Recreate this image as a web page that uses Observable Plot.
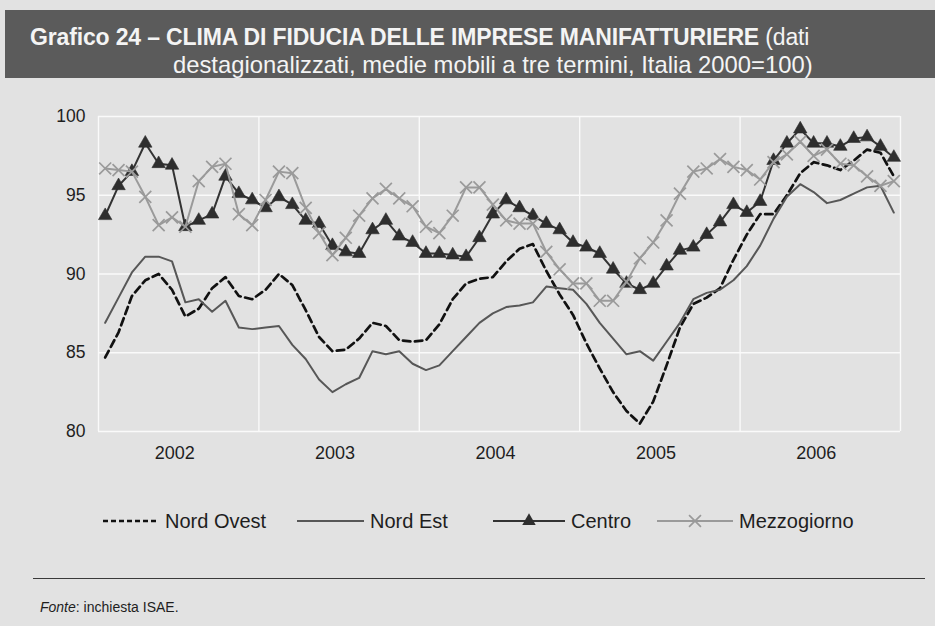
<!DOCTYPE html>
<html>
<head>
<meta charset="utf-8">
<script src="https://cdn.jsdelivr.net/npm/d3@7"></script>
<script src="https://cdn.jsdelivr.net/npm/@observablehq/plot@0.6"></script>
<style>
  html, body { margin: 0; padding: 0; }
  body { width: 935px; height: 626px; background: #e2e2e2; position: relative; overflow: hidden;
         font-family: "Liberation Sans", Arial, Helvetica, sans-serif; color: #1e1e1e; }
  #titlebar { position: absolute; left: 5px; top: 10px; width: 930px; height: 68px; background: #5b5b5b; color: #f4f4f4; }
  #titlebar .l1 { position: absolute; left: 25px; top: 14px; font-size: 23px; letter-spacing: -0.15px; white-space: nowrap; }
  #titlebar .l2 { position: absolute; left: 168px; top: 41px; font-size: 23.8px; white-space: nowrap; }
  #chart { position: absolute; left: 0; top: 78px; }
  .leg { position: absolute; top: 509px; height: 24px; display: flex; align-items: center; font-size: 20px; color: #1e1e1e; white-space: nowrap; }
  .leg svg { margin-right: 6px; }
  #rule { position: absolute; left: 33px; top: 578px; width: 892px; height: 0; border-top: 1.3px solid #3a3a3a; }
  #fonte { position: absolute; left: 40px; top: 599px; font-size: 14px; color: #1e1e1e; }
</style>
</head>
<body>
<div id="titlebar">
  <div class="l1"><b>Grafico 24 – CLIMA DI FIDUCIA DELLE IMPRESE MANIFATTURIERE</b> (dati</div>
  <div class="l2">destagionalizzati, medie mobili a tre termini, Italia 2000=100)</div>
</div>
<div id="chart"></div>
<div id="legend"></div>
<div id="rule"></div>
<div id="fonte"><i>Fonte</i>: inchiesta ISAE.</div>
<script>
// Monthly data, January 2002 – December 2006
const years = ["2002", "2003", "2004", "2005", "2006"];
const seriesNames = ["Nord Ovest", "Nord Est", "Centro", "Mezzogiorno"];

const nordOvest = [
  84.7, 86.3, 88.6, 89.6, 90.0, 89.0, 87.3, 87.8, 89.1, 89.8, 88.6, 88.4,
  89.0, 90.0, 89.3, 87.7, 86.0, 85.1, 85.2, 85.9, 86.9, 86.7, 85.8, 85.7,
  85.8, 86.8, 88.4, 89.4, 89.7, 89.8, 90.8, 91.6, 91.9, 90.2, 88.7, 87.4,
  85.6, 84.0, 82.5, 81.3, 80.5, 81.9, 84.2, 86.6, 88.1, 88.5, 89.1, 90.9,
  92.5, 93.8, 93.8, 95.0, 96.4, 97.1, 96.9, 96.6, 97.2, 97.9, 97.7, 96.2
];
const nordEst = [
  86.9, 88.5, 90.1, 91.1, 91.1, 90.8, 88.2, 88.4, 87.6, 88.3, 86.6, 86.5,
  86.6, 86.7, 85.5, 84.6, 83.3, 82.5, 83.0, 83.4, 85.1, 84.9, 85.1, 84.3,
  83.9, 84.2, 85.1, 86.0, 86.9, 87.5, 87.9, 88.0, 88.2, 89.2, 89.1, 89.0,
  88.1, 86.9, 85.9, 84.9, 85.1, 84.5, 85.7, 86.9, 88.4, 88.8, 89.0, 89.6,
  90.5, 91.8, 93.5, 94.9, 95.7, 95.2, 94.5, 94.7, 95.1, 95.5, 95.6, 93.9
];
const centro = [
  93.7, 95.6, 96.5, 98.3, 97.0, 96.9, 93.0, 93.4, 93.8, 96.2, 95.1, 94.7,
  94.2, 94.9, 94.4, 93.4, 93.2, 91.8, 91.4, 91.3, 92.8, 93.4, 92.4, 92.0,
  91.3, 91.3, 91.2, 91.1, 92.3, 93.8, 94.7, 94.2, 93.7, 93.2, 92.8, 92.0,
  91.7, 91.3, 90.3, 89.4, 89.0, 89.4, 90.5, 91.5, 91.7, 92.5, 93.3, 94.4,
  93.9, 94.6, 97.2, 98.3, 99.2, 98.3, 98.3, 98.1, 98.6, 98.7, 98.1, 97.4
];
const mezzogiorno = [
  96.7, 96.6, 96.5, 94.9, 93.1, 93.6, 93.0, 95.9, 96.8, 97.0, 93.8, 93.1,
  94.7, 96.5, 96.4, 94.2, 92.6, 91.2, 92.3, 93.7, 94.8, 95.4, 94.8, 94.3,
  93.0, 92.6, 93.7, 95.5, 95.5, 94.4, 93.4, 93.2, 93.2, 91.4, 90.3, 89.4,
  89.4, 88.3, 88.3, 89.5, 91.0, 92.0, 93.4, 95.1, 96.5, 96.7, 97.3, 96.8,
  96.6, 96.0, 97.1, 97.6, 98.4, 97.5, 97.9, 97.0, 96.9, 96.2, 95.6, 95.9
];
const yTicks = [80, 85, 90, 95, 100];

const toRows = (arr, name) => arr.map((v, i) => ({ t: i + 0.5, value: v, series: name }));
const rowsNO = toRows(nordOvest, "Nord Ovest");
const rowsNE = toRows(nordEst, "Nord Est");
const rowsCE = toRows(centro, "Centro");
const rowsME = toRows(mezzogiorno, "Mezzogiorno");

const nMonths = years.length * 12;
const yearBounds = d3.range(0, nMonths + 1, 12);
const yearMids = years.map((y, k) => k * 12 + 6);

const styles = {
  "Nord Ovest": { stroke: "#111111", strokeWidth: 2.7, dash: "7.5,4.5" },
  "Nord Est": { stroke: "#575757", strokeWidth: 2 },
  "Centro": { stroke: "#333333", strokeWidth: 2 },
  "Mezzogiorno": { stroke: "#9a9a9a", strokeWidth: 2 }
};

const chart = Plot.plot({
  width: 935,
  height: 392,
  marginLeft: 98,
  marginRight: 35,
  marginTop: 38,
  marginBottom: 39,
  style: { background: "transparent", fontSize: "17px", fontFamily: "'Liberation Sans', Arial, sans-serif", color: "#1e1e1e" },
  x: { domain: [0, nMonths], label: null },
  y: { domain: [80, 100], label: null },
  marks: [
    Plot.gridY(yTicks, { stroke: "#fafafa", strokeOpacity: 1, strokeWidth: 1.6 }),
    Plot.gridX(yearBounds, { stroke: "#fafafa", strokeOpacity: 1, strokeWidth: 1.4 }),
    Plot.axisY(yTicks, { tickSize: 0, tickPadding: 13, fontSize: 17.5, label: null }),
    Plot.axisX(yearMids, { tickSize: 0, tickPadding: 15, fontSize: 18, dx: -4, label: null,
      tickFormat: (d) => years[(d - 6) / 12] }),
    Plot.line(rowsNO, { x: "t", y: "value", stroke: styles["Nord Ovest"].stroke, strokeWidth: styles["Nord Ovest"].strokeWidth, strokeDasharray: styles["Nord Ovest"].dash }),
    Plot.line(rowsNE, { x: "t", y: "value", stroke: styles["Nord Est"].stroke, strokeWidth: styles["Nord Est"].strokeWidth }),
    Plot.line(rowsCE, { x: "t", y: "value", stroke: styles["Centro"].stroke, strokeWidth: styles["Centro"].strokeWidth }),
    Plot.dot(rowsCE, { x: "t", y: "value", symbol: "triangle", r: 5, fill: "#2e2e2e", stroke: "#2e2e2e", strokeWidth: 0.6 }),
    Plot.line(rowsME, { x: "t", y: "value", stroke: styles["Mezzogiorno"].stroke, strokeWidth: styles["Mezzogiorno"].strokeWidth }),
    Plot.dot(rowsME, { x: "t", y: "value", symbol: "times", r: 5.5, stroke: "#9a9a9a", strokeWidth: 1.7 })
  ]
});
document.getElementById("chart").appendChild(chart);

// Legend
const legendLayout = [
  { name: "Nord Ovest", left: 103, w: 56 },
  { name: "Nord Est", left: 297, w: 67 },
  { name: "Centro", left: 493, w: 72 },
  { name: "Mezzogiorno", left: 657, w: 76 }
];
const legend = document.getElementById("legend");
legendLayout.forEach((item) => {
  const div = document.createElement("div");
  div.className = "leg";
  div.style.left = item.left + "px";
  const st = styles[item.name];
  const svg = d3.create("svg").attr("width", item.w).attr("height", 20);
  svg.append("line").attr("x1", 0).attr("x2", item.w).attr("y1", 10).attr("y2", 10)
    .attr("stroke", st.stroke).attr("stroke-width", st.strokeWidth)
    .attr("stroke-dasharray", st.dash ? "5,3" : null);
  if (item.name === "Centro") {
    svg.append("path").attr("transform", `translate(${item.w / 2},10)`)
      .attr("d", d3.symbol(d3.symbolTriangle, Math.PI * 25)()).attr("fill", "#2e2e2e");
  }
  if (item.name === "Mezzogiorno") {
    svg.append("path").attr("transform", `translate(${item.w / 2},10)`)
      .attr("d", d3.symbol(d3.symbolTimes, Math.PI * 30)()).attr("fill", "none")
      .attr("stroke", "#9a9a9a").attr("stroke-width", 1.7);
  }
  div.appendChild(svg.node());
  const span = document.createElement("span");
  span.textContent = item.name;
  div.appendChild(span);
  legend.appendChild(div);
});
</script>
</body>
</html>
